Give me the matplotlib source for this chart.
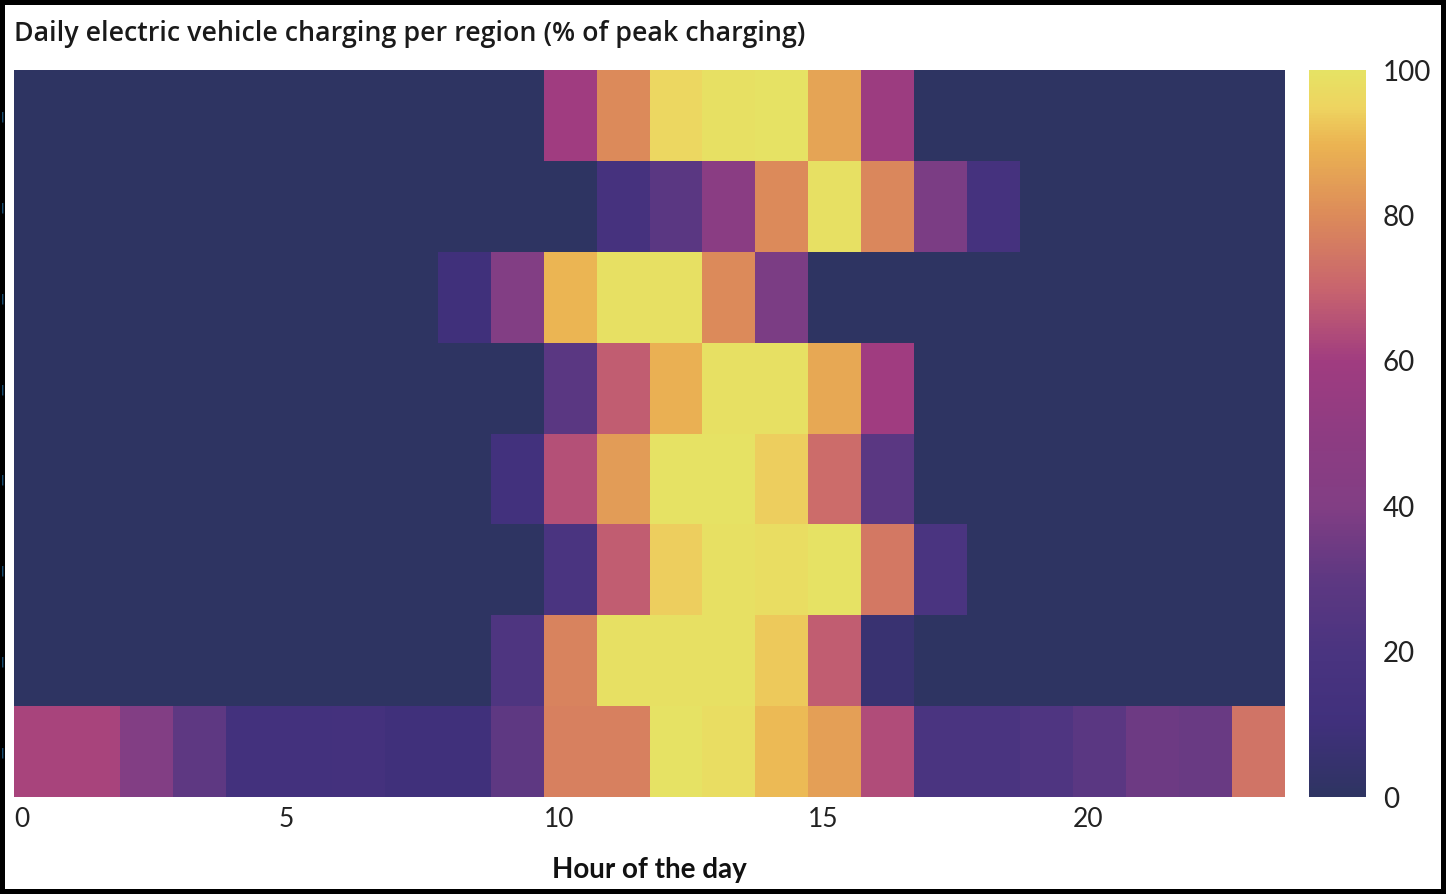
import numpy as np
import matplotlib
matplotlib.use('Agg')
import matplotlib.pyplot as plt
from matplotlib.colors import LinearSegmentedColormap

# Horas do dia (colunas) e regiões (linhas, de cima para baixo)
horas = list(range(24))
regioes = ['R1', 'R2', 'R3', 'R4', 'R5', 'R6', 'R7', 'R8']

r1 = [0, 0, 0, 0, 0, 0, 0, 0, 0, 0, 60, 80, 96, 99, 100, 86, 58, 0, 0, 0, 0, 0, 0, 0]
r2 = [0, 0, 0, 0, 0, 0, 0, 0, 0, 0, 0, 16, 28, 47, 80, 99, 79, 38, 15, 0, 0, 0, 0, 0]
r3 = [0, 0, 0, 0, 0, 0, 0, 0, 10, 40, 90, 99, 99, 80, 38, 0, 0, 0, 0, 0, 0, 0, 0, 0]
r4 = [0, 0, 0, 0, 0, 0, 0, 0, 0, 0, 28, 68, 89, 99, 99, 87, 60, 0, 0, 0, 0, 0, 0, 0]
r5 = [0, 0, 0, 0, 0, 0, 0, 0, 0, 12, 65, 84, 100, 100, 94, 72, 28, 0, 0, 0, 0, 0, 0, 0]
r6 = [0, 0, 0, 0, 0, 0, 0, 0, 0, 0, 20, 68, 94, 99, 98, 100, 75, 20, 0, 0, 0, 0, 0, 0]
r7 = [0, 0, 0, 0, 0, 0, 0, 0, 0, 22, 78, 99, 99, 99, 93, 68, 6, 0, 0, 0, 0, 0, 0, 0]
r8 = [62, 62, 40, 30, 13, 13, 14, 10, 10, 30, 77, 77, 100, 98, 91, 85, 64, 20, 20, 23, 28, 34, 33, 74]

xticks = [0, 5, 10, 15, 20]
cbar_ticks = [0, 20, 40, 60, 80, 100]

# Paleta aproximada (tipo "plasma" com fundo azul-ardósia)
cores = [(0.00, '#2e3462'), (0.10, '#40307c'), (0.20, '#4a3480'),
         (0.30, '#5e3882'), (0.40, '#823e84'), (0.50, '#8e3c82'),
         (0.60, '#a03c80'), (0.70, '#c8646e'), (0.80, '#dc8a5a'),
         (0.90, '#ebb452'), (0.95, '#eed460'), (1.00, '#e6e264')]
cmap = LinearSegmentedColormap.from_list('carga', cores)

M = np.array([r1, r2, r3, r4, r5, r6, r7, r8])

W, H = 1446, 894
fig = plt.figure(figsize=(W / 100, H / 100), dpi=100)
fig.patch.set_facecolor('white')
fig.patch.set_edgecolor('black')
fig.patch.set_linewidth(6)

ax = fig.add_axes([14 / W, 1 - 797 / H, (1285 - 14) / W, (797 - 70) / H])
x_edges = np.arange(len(horas) + 1)
y_edges = np.arange(len(regioes) + 1)
mesh = ax.pcolormesh(x_edges, y_edges, M, cmap=cmap, vmin=0, vmax=100)
ax.set_xlim(0, 24)
ax.set_ylim(len(regioes), 0)
for s in ax.spines.values():
    s.set_visible(False)

ax.set_xticks(xticks)
ax.set_xticklabels([str(t) for t in xticks], ha='left', family='Lato',
                   fontsize=19, color='#222222')
ax.tick_params(axis='x', length=0, pad=7)

# Rótulos das regiões ficam cortados na borda da imagem
ax.set_yticks(np.arange(len(regioes)) + 0.5)
ax.set_yticklabels(['|'] * len(regioes), fontsize=8, color='#2a78b0')
ax.tick_params(axis='y', length=0, pad=7)

ax.set_xlabel('Hour of the day', family='Lato', fontweight='bold',
              fontsize=20, labelpad=18, color='#111111')

fig.text(14 / W, 1 - 34 / H,
         'Daily electric vehicle charging per region (% of peak charging)',
         ha='left', va='center', family='Open Sans', fontweight='semibold',
         fontsize=19.3, color='#1a1a1a')

cax = fig.add_axes([1309 / W, 1 - 797 / H, 57 / W, (797 - 70) / H])
cb = fig.colorbar(mesh, cax=cax, ticks=cbar_ticks)
cb.outline.set_visible(False)
cb.ax.tick_params(length=0, pad=12, labelsize=20, labelcolor='#222222')
for t in cb.ax.get_yticklabels():
    t.set_family('Lato')

plt.savefig('out.png', dpi=100)
